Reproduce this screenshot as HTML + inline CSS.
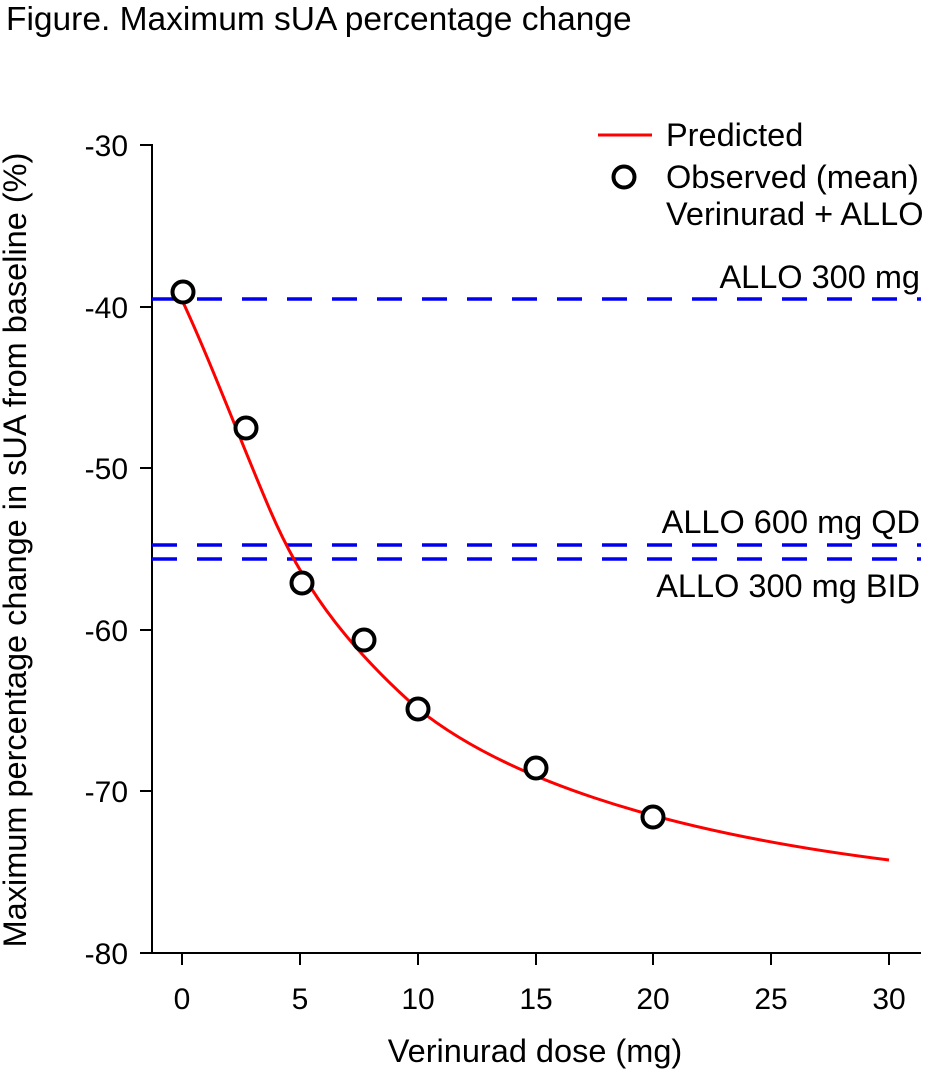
<!DOCTYPE html>
<html><head><style>body{margin:0;background:#fff}svg{display:block}text{font-family:"Liberation Sans",Arial,sans-serif;fill:#000}</style></head>
<body>
<svg width="933" height="1073" viewBox="0 0 933 1073" xmlns="http://www.w3.org/2000/svg">
<text x="6" y="30" font-size="33.5">Figure. Maximum sUA percentage change</text>
<g stroke="#000" stroke-width="2" fill="none">
<line x1="152" y1="144" x2="152" y2="954"/>
<line x1="151" y1="953" x2="921" y2="953"/>
<line x1="140" y1="145" x2="152" y2="145"/>
<line x1="140" y1="307" x2="152" y2="307"/>
<line x1="140" y1="468" x2="152" y2="468"/>
<line x1="140" y1="630" x2="152" y2="630"/>
<line x1="140" y1="791" x2="152" y2="791"/>
<line x1="140" y1="953" x2="152" y2="953"/>
<line x1="182" y1="953" x2="182" y2="965"/>
<line x1="300" y1="953" x2="300" y2="965"/>
<line x1="418" y1="953" x2="418" y2="965"/>
<line x1="536" y1="953" x2="536" y2="965"/>
<line x1="653" y1="953" x2="653" y2="965"/>
<line x1="771" y1="953" x2="771" y2="965"/>
<line x1="889" y1="953" x2="889" y2="965"/>
</g>
<g font-size="30" text-anchor="end">
<text x="128" y="156">-30</text><text x="128" y="318">-40</text><text x="128" y="479">-50</text>
<text x="128" y="641">-60</text><text x="128" y="802">-70</text><text x="128" y="964">-80</text>
</g>
<g font-size="30" text-anchor="middle">
<text x="182" y="1009">0</text><text x="300" y="1009">5</text><text x="418" y="1009">10</text>
<text x="536" y="1009">15</text><text x="653" y="1009">20</text><text x="771" y="1009">25</text><text x="889" y="1009">30</text>
</g>
<text x="535" y="1062" font-size="32.5" text-anchor="middle">Verinurad dose (mg)</text>
<text transform="translate(26,550) rotate(-90)" font-size="32.5" text-anchor="middle">Maximum percentage change in sUA from baseline (%)</text>
<g stroke="#0000ee" stroke-width="3.5" stroke-dasharray="25,20">
<line x1="152" y1="299" x2="921" y2="299"/>
<line x1="152" y1="545" x2="921" y2="545"/>
<line x1="152" y1="559" x2="921" y2="559"/>
</g>
<g font-size="32.5" text-anchor="end">
<text x="920" y="288">ALLO 300 mg</text>
<text x="920" y="533">ALLO 600 mg QD</text>
<text x="920" y="597">ALLO 300 mg BID</text>
</g>
<path d="M182,300 C210,360 240,440 270,510 C300,580 340,640 417,708 C500,775 650,830 889,860" stroke="#ff0000" stroke-width="3" fill="none"/>
<g stroke="#000" stroke-width="4" fill="#fff">
<circle cx="183" cy="292" r="10.5"/><circle cx="246" cy="428" r="10.5"/><circle cx="302" cy="583" r="10.5"/>
<circle cx="364" cy="640" r="10.5"/><circle cx="418" cy="709" r="10.5"/><circle cx="536" cy="768" r="10.5"/>
<circle cx="653" cy="817" r="10.5"/>
<circle cx="624" cy="177" r="10.5"/>
</g>
<line x1="598" y1="135" x2="652" y2="135" stroke="#ff0000" stroke-width="3"/>
<g font-size="32.5">
<text x="666" y="146">Predicted</text>
<text x="666" y="188">Observed (mean)</text>
<text x="666" y="225">Verinurad + ALLO</text>
</g>
</svg>
</body></html>
